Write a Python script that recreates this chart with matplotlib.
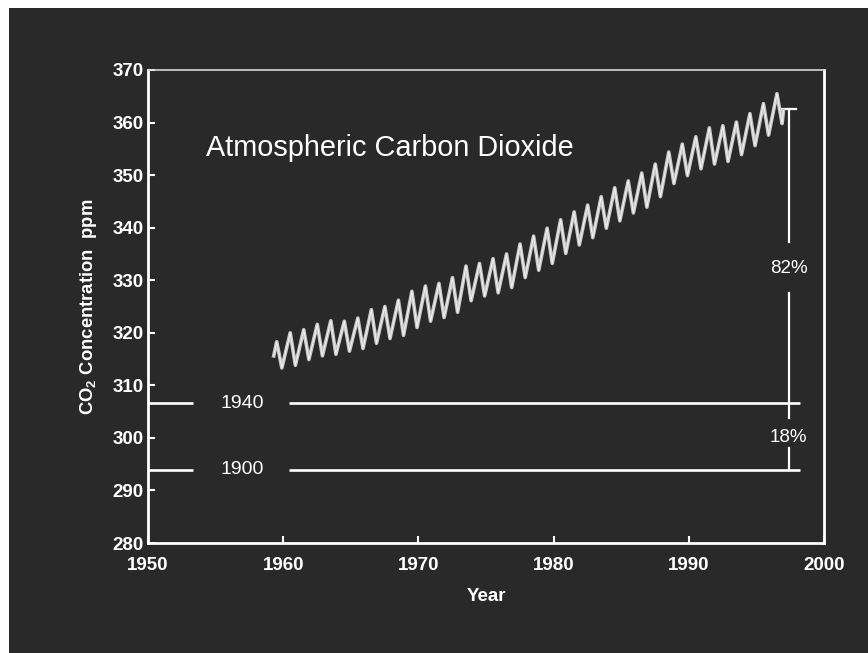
import matplotlib
matplotlib.use('Agg')
import matplotlib.pyplot as plt
from matplotlib.patches import Rectangle

# Mauna Loa style record: one seasonal max and min per year
years = list(range(1959, 1997))
peak_ppm = [318.3, 320.0, 320.6, 321.6, 322.3, 322.2, 322.8, 324.4, 325.0, 326.2,
            327.9, 328.9, 329.4, 330.5, 332.7, 333.2, 334.1, 335.0, 336.9, 338.4,
            339.9, 341.5, 343.0, 344.3, 345.9, 347.6, 348.9, 350.4, 352.1, 354.4,
            355.9, 357.3, 359.0, 359.4, 360.1, 361.7, 363.6, 365.5]
trough_ppm = [313.3, 313.8, 314.9, 315.6, 315.9, 316.5, 317.0, 318.0, 318.9, 319.5,
              321.0, 322.2, 322.9, 323.9, 326.1, 327.0, 327.6, 328.6, 330.5, 331.9,
              333.2, 335.1, 336.7, 338.1, 339.9, 341.3, 342.8, 343.9, 345.9, 348.4,
              349.9, 351.2, 352.1, 352.6, 353.9, 355.6, 357.6, 359.8]
peak_phase = 0.52
trough_phase = 0.9
first_point = (1959.3, 315.6)
last_point = (1997.0, 362.3)

# reference levels
ref_labels = ['1940', '1900']
ref_ppm = [306.6, 293.9]
pct_labels = ['82%', '18%']

x_ticks = [1950, 1960, 1970, 1980, 1990, 2000]
y_ticks = list(range(280, 371, 10))

t = [first_point[0]]
c = [first_point[1]]
for y, p, tr in zip(years, peak_ppm, trough_ppm):
    t += [y + peak_phase, y + trough_phase]
    c += [p, tr]
t.append(last_point[0])
c.append(last_point[1])

plt.rcParams['font.family'] = ['Liberation Sans', 'DejaVu Sans']
plt.rcParams['mathtext.fontset'] = 'custom'
plt.rcParams['mathtext.rm'] = 'Liberation Sans'
plt.rcParams['mathtext.bf'] = 'Liberation Sans:bold'

bg = '#292929'
fig = plt.figure(figsize=(8.68, 6.53), dpi=100, facecolor='white')
fig.patches.append(Rectangle((9 / 868, 0), 1, 1 - 8 / 653, transform=fig.transFigure,
                             facecolor=bg, edgecolor='none', zorder=-5))
ax = fig.add_axes([148 / 868, 1 - 543 / 653, 676 / 868, 473 / 653])
ax.set_facecolor(bg)

ax.plot(t, c, color='#c6c6c6', linewidth=2.6, solid_joinstyle='round', zorder=3)
ax.plot(t, c, color='white', linewidth=0.7, alpha=0.8, zorder=4)

# 1940 / 1900 level lines, broken for the labels
for lab, v in zip(ref_labels, ref_ppm):
    ax.plot([1950, 1953.3], [v, v], color='white', linewidth=1.9, solid_capstyle='butt')
    ax.plot([1960.4, 1998.2], [v, v], color='white', linewidth=1.9, solid_capstyle='butt')
    ax.text(1957.0, v, lab, color='white', fontsize=14, ha='center', va='center')

# percentage bracket on the right
xb = 1997.38
ax.plot([1996.7, 1997.95], [362.5, 362.5], color='white', linewidth=1.6)
ax.plot([xb, xb], [362.5, 337.2], color='white', linewidth=1.6)
ax.plot([xb, xb], [327.5, 303.8], color='white', linewidth=1.6)
ax.plot([xb, xb], [298.1, ref_ppm[1]], color='white', linewidth=1.6)
ax.text(xb, 332.3, pct_labels[0], color='white', fontsize=13.5, ha='center', va='center')
ax.text(xb, 300.0, pct_labels[1], color='white', fontsize=13.5, ha='center', va='center')

ax.text(1954.3, 355.1, 'Atmospheric Carbon Dioxide', color='white', fontsize=20.8,
        ha='left', va='center')

ax.set_xlim(1950, 2000)
ax.set_ylim(280, 370)
ax.set_xticks(x_ticks)
ax.set_yticks(y_ticks)
ax.tick_params(axis='both', direction='in', colors='white', labelsize=13.5,
               length=5, width=1.5)
ax.tick_params(axis='x', pad=10)
ax.tick_params(axis='y', pad=3)
for lbl in ax.get_xticklabels() + ax.get_yticklabels():
    lbl.set_fontweight('bold')

ax.set_xlabel('Year', color='white', fontsize=13.5, fontweight='bold', labelpad=10)
ax.set_ylabel(r'CO$_\mathbf{2}$ Concentration  ppm', color='white', fontsize=13.3,
              fontweight='bold', labelpad=10)

for side in ['left', 'bottom', 'right']:
    ax.spines[side].set_color('white')
    ax.spines[side].set_linewidth(2.0)
ax.spines['top'].set_color('#d8d8d8')
ax.spines['top'].set_linewidth(1.2)

fig.savefig('out.png', dpi=100, facecolor=fig.get_facecolor())
